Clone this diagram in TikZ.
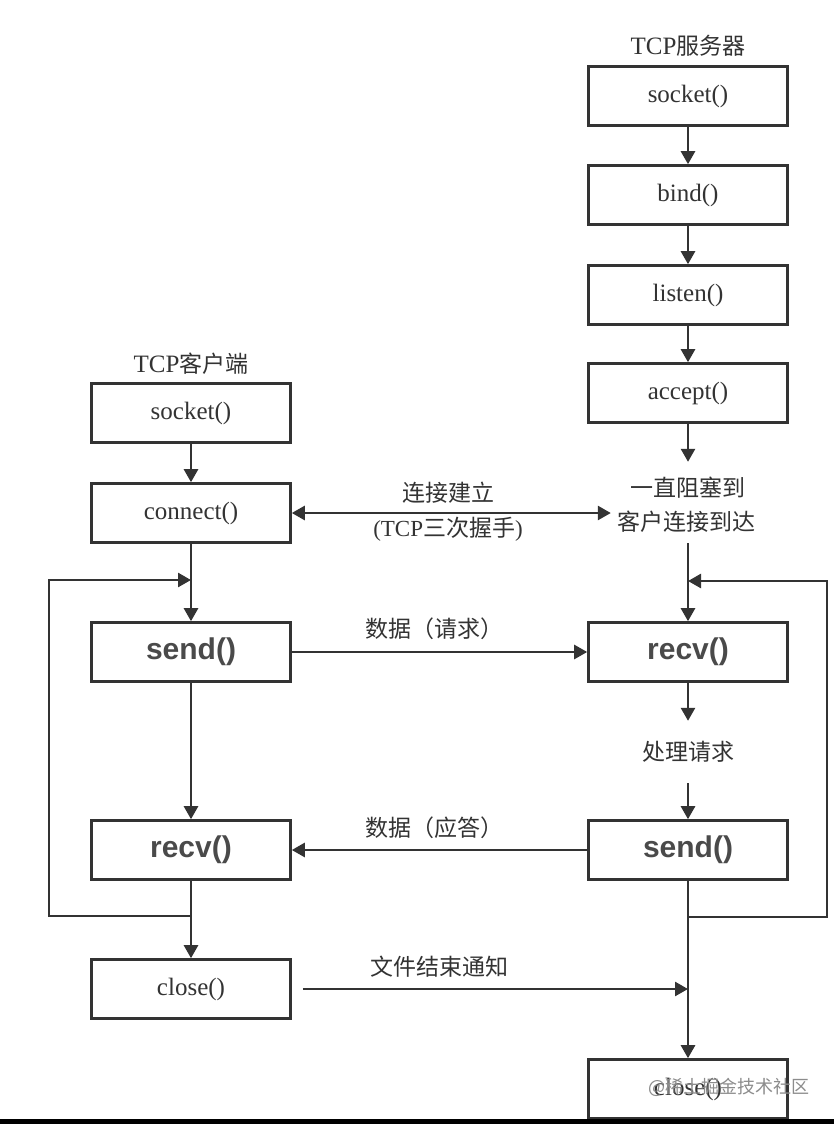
\documentclass[tikz,border=0pt]{standalone}
\usepackage{fontspec}
\setmainfont{Liberation Serif}
\newfontfamily\cjk{Noto Sans CJK SC}
\newfontfamily\bsans{Liberation Sans}
\usetikzlibrary{arrows.meta}
\definecolor{lncol}{HTML}{333333}
\definecolor{txcol}{HTML}{333333}
\definecolor{btcol}{HTML}{4A4A4A}
\begin{document}
\begin{tikzpicture}[x=1pt,y=-1pt,
  box/.style={draw=lncol, line width=2.6pt, minimum width=199pt, minimum height=59pt, inner sep=0pt, font=\fontsize{25}{29}\selectfont, text=txcol},
  bbox/.style={box, font=\bsans\bfseries\fontsize{30}{34}\selectfont, text=btcol},
  lbl/.style={font=\cjk\fontsize{23}{27}\selectfont, text=txcol, inner sep=0pt},
  head/.style={font=\fontsize{25}{29}\selectfont, text=txcol, inner sep=0pt},
  arr/.style={draw=lncol, line width=2.6pt, -{Triangle[length=13pt,width=14pt]}},
  twoarr/.style={draw=lncol, line width=2.6pt, {Triangle[length=13pt,width=14pt]}-{Triangle[length=13pt,width=14pt]}},
  plain/.style={draw=lncol, line width=2.6pt}]
\useasboundingbox (0,0) rectangle (834,1124);
\fill[white] (0,0) rectangle (834,1124);

% server column
\node[head] (shead) at (688,46) {TCP{\cjk\fontsize{23}{27}\selectfont 服务器}};
\node[box] (ssocket) at (688,96) {socket()};
\node[box] (sbind) at (688,195) {bind()};
\node[box] (slisten) at (688,295) {listen()};
\node[box] (saccept) at (688,393) {accept()};
\node[lbl, minimum height=52pt] (blk1) at (688,488) {一直阻塞到};
\node[lbl, minimum height=42pt, inner xsep=6pt] (blk2) at (686,522) {客户连接到达};
\node[bbox] (srecv) at (688,652) {recv()};
\node[lbl, minimum height=62pt] (proc) at (688,752) {处理请求};
\node[bbox] (ssend) at (688,850) {send()};
\node[box] (sclose) at (688,1089) {close()};

% client column
\node[head] (chead) at (191,364) {TCP{\cjk\fontsize{23}{27}\selectfont 客户端}};
\node[box] (csocket) at (191,413) {socket()};
\node[box] (cconnect) at (191,513) {connect()};
\node[bbox] (csend) at (191,652) {send()};
\node[bbox] (crecv) at (191,850) {recv()};
\node[box] (cclose) at (191,989) {close()};

% labels between columns
\node[lbl] (lconn) at (448,493) {连接建立};
\node[lbl, font=\fontsize{23}{27}\selectfont] (lhand) at (448,529) {(TCP{\cjk 三次握手})};
\node[lbl] (lreq) at (434,629) {数据（请求）};
\node[lbl] (lresp) at (434,828) {数据（应答）};
\node[lbl] (lfin) at (439,967) {文件结束通知};

% server flow
\draw[arr] (ssocket.south) -- (sbind.north);
\draw[arr] (sbind.south) -- (slisten.north);
\draw[arr] (slisten.south) -- (saccept.north);
\draw[arr] (saccept.south) -- (blk1.north);
\draw[arr] (blk2.south -| srecv.north) -- (srecv.north);
\draw[arr] (srecv.south) -- (proc.north);
\draw[arr] (proc.south) -- (ssend.north);
\draw[arr] (ssend.south) -- (sclose.north);

% client flow
\draw[arr] (csocket.south) -- (cconnect.north);
\draw[arr] (cconnect.south) -- (csend.north);
\draw[arr] (csend.south) -- (crecv.north);
\draw[arr] (crecv.south) -- (cclose.north);

% loops
\coordinate (rloopA) at (688,917);
\coordinate (rloopB) at (827,917);
\coordinate (rloopC) at (827,581);
\coordinate (rloopD) at (688,581);
\draw[arr] (rloopA) -- (rloopB) -- (rloopC) -- (rloopD);
\coordinate (lloopA) at (191,916);
\coordinate (lloopB) at (49,916);
\coordinate (lloopC) at (49,580);
\coordinate (lloopD) at (191,580);
\draw[arr] (lloopA) -- (lloopB) -- (lloopC) -- (lloopD);

% horizontal messages
\draw[twoarr] (cconnect.east) -- (cconnect.east -| blk2.west);
\draw[arr] (csend.east) -- (srecv.west);
\draw[arr] (ssend.west) -- (crecv.east);
\draw[arr, shorten <=11pt] (cclose.east) -- (cclose.east -| ssend.south);

% watermark and bottom edge
\node[font=\cjk\fontsize{18}{20}\selectfont, text=black!45, inner sep=0pt] (wm) at (729,1087) {@稀土掘金技术社区};
\fill[black] (0,1119) rectangle (834,1124);
\end{tikzpicture}
\end{document}
